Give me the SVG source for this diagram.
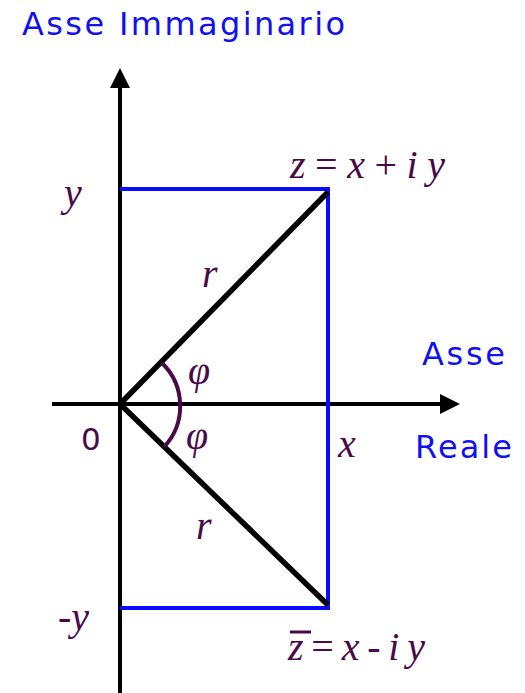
<svg xmlns="http://www.w3.org/2000/svg" width="525" height="693" viewBox="0 0 525 693">
<style>
.lbl{font-family:"DejaVu Sans",Verdana,sans-serif;fill:#1010f0;font-size:32px}
.m{font-family:"Liberation Serif","Times New Roman",serif;font-style:italic;fill:#4a0a4a;font-size:40px}
.mu{font-family:"DejaVu Sans",sans-serif;fill:#4a0a4a;font-size:31px}
.ax{stroke:#000;stroke-width:4;fill:none}
.bl{stroke:#0a0aff;stroke-width:4;fill:none}
.rad{stroke:#000;stroke-width:5.5;fill:none}
</style>
<rect width="525" height="693" fill="#fff"/>
<g id="connectors">
<line class="ax" x1="120" y1="86" x2="120" y2="693"/>
<polygon points="120,68 110,88 130,88" fill="#000"/>
<line class="ax" x1="52" y1="404" x2="442" y2="404"/>
<polygon points="460,404 440,394 440,414" fill="#000"/>
<polyline class="bl" points="120,189 328,189 328,608 120,608"/>
<line class="rad" x1="120" y1="404" x2="328" y2="192"/>
<line class="rad" x1="120" y1="404" x2="328" y2="605"/>
<path d="M162,363 A60,60 0 0 1 164,447" stroke="#4a0a4a" stroke-width="4" fill="none"/>
</g>
<g id="title"><text class="lbl" x="22" y="35" textLength="323" lengthAdjust="spacing">Asse Immaginario</text></g>
<g id="axis-real"><text class="lbl" x="422" y="365" textLength="83" lengthAdjust="spacing">Asse</text><text class="lbl" x="415" y="458" textLength="97" lengthAdjust="spacing">Reale</text></g>
<g id="labels">
<text class="m" x="64" y="206">y</text>
<text class="m" x="58" y="630">-y</text>
<text class="mu" x="81" y="450">0</text>
<text class="m" x="338" y="457">x</text>
<text class="m" x="202" y="287">r</text>
<text class="m" x="196" y="539">r</text>
<text class="m" x="188" y="384">φ</text>
<text class="m" x="186" y="449">φ</text>
<text class="m" x="290" y="178" textLength="155" lengthAdjust="spacing"><tspan>z</tspan><tspan font-style="normal">=</tspan><tspan>x</tspan><tspan font-style="normal">+</tspan><tspan>iy</tspan></text>
<text class="m" x="288" y="660" textLength="137" lengthAdjust="spacing"><tspan>z</tspan><tspan font-style="normal">=</tspan><tspan>x</tspan><tspan font-style="normal">-</tspan><tspan>iy</tspan></text>
<line x1="290" y1="632" x2="311" y2="632" stroke="#4a0a4a" stroke-width="3"/>
</g>
</svg>
